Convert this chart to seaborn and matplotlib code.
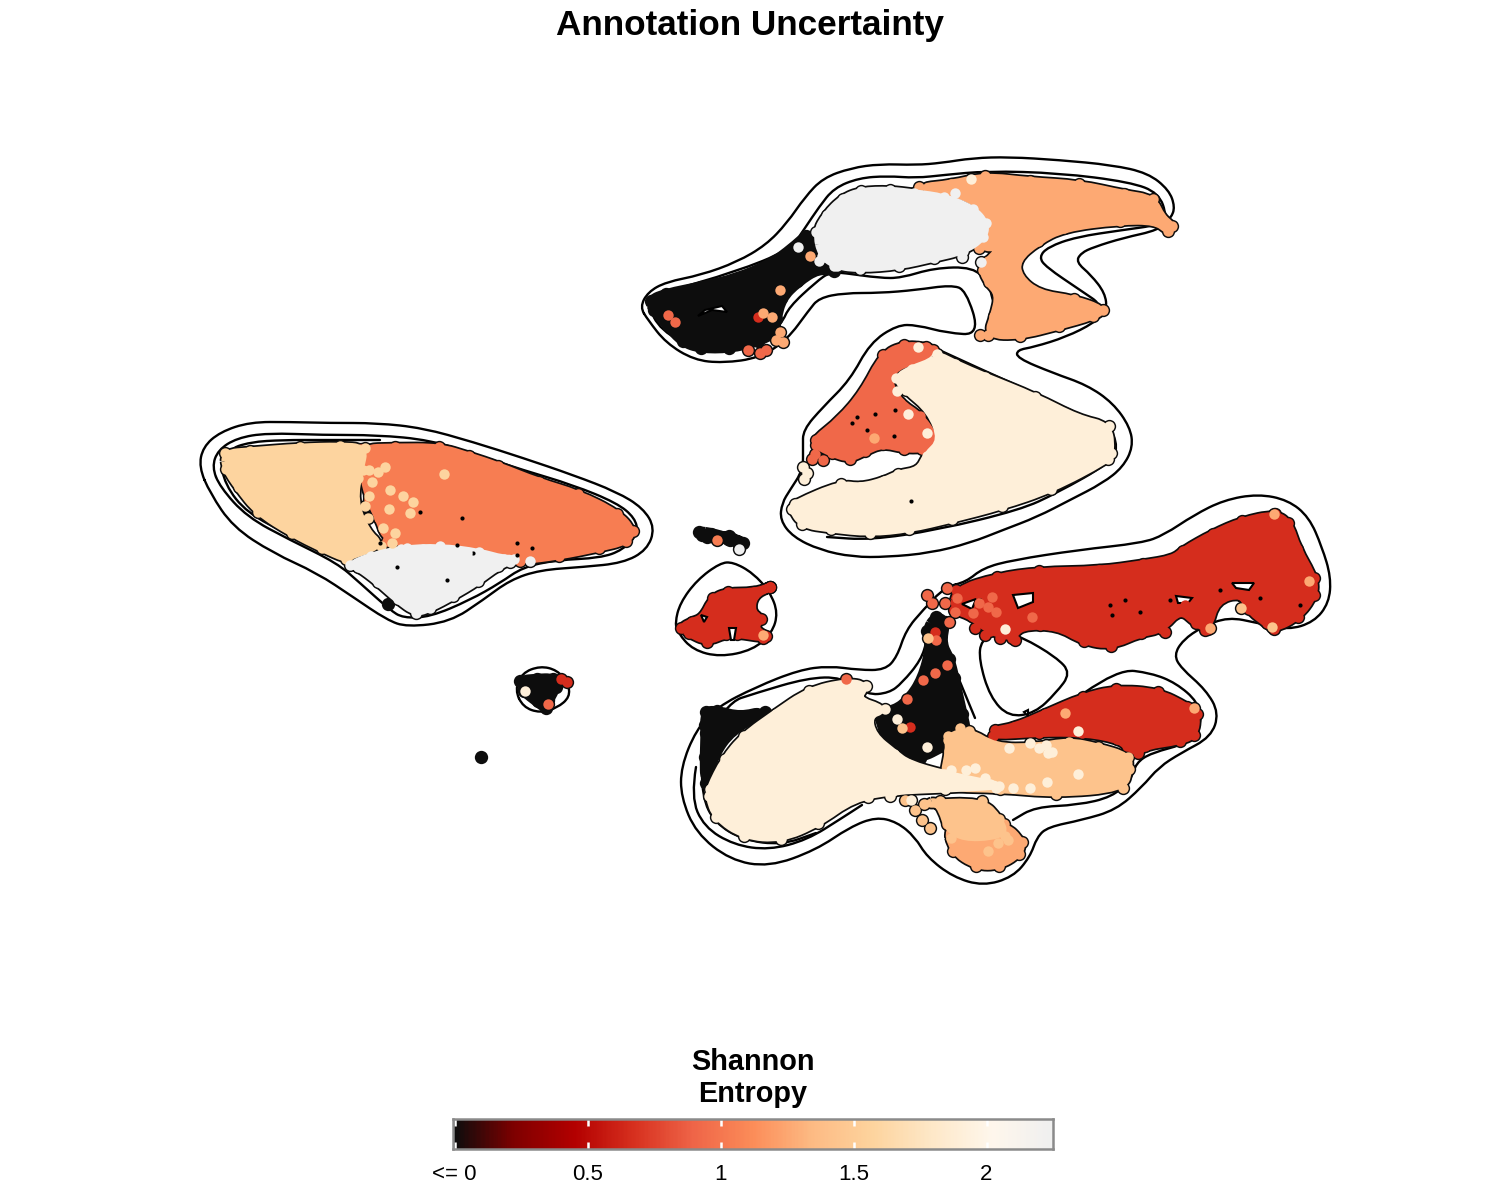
# coding: utf-8
# umap style cell map coloured by shannon entropy, density contours under the cells
import numpy as np
import matplotlib
matplotlib.use("Agg")
import matplotlib.pyplot as plt
import seaborn as sns
from matplotlib.colors import LinearSegmentedColormap, Normalize
from matplotlib.patches import PathPatch
from matplotlib.path import Path

sns.set_style("white")
plt.rcParams['font.family'] = ['Liberation Sans', 'DejaVu Sans']
plt.rcParams['text.color'] = 'black'
plt.rcParams['xtick.color'] = 'black'

# embedding coordinates
contour_top = [(640,307),(648,292),(666,282),(701,275),(737,262),(766,245),(787,223),(805,197),(823,178),(851,168),(880,164),(916,165),(941,163),(973,158),(1009,157),(1059,160),(1112,165),(1148,173),(1169,190),(1175,207),(1171,218),(1159,230),(1123,238),(1094,247),(1081,253),(1076,262),(1091,275),(1105,293),(1107,310),(1094,323),(1066,337),(1034,347),(1017,350),(1017,358),(1053,373),(1087,385),(1113,403),(1130,427),(1133,447),(1123,467),(1103,483),(1070,500),(1037,517),(1003,530),(970,543),(930,553),(887,557),(853,557),(820,550),(793,537),(780,520),(782,503),(790,490),(803,470),(803,447),(803,430),(823,407),(850,380),(870,343),(897,325),(917,325),(947,333),(980,335),(966,290),(951,285),(916,290),(880,293),(844,293),(819,298),(809,310),(787,340),(759,358),(723,363),(694,360),(666,343),(648,320),(640,307)]
contour_top2 = [(805,228),(819,207),(834,188),(859,178),(887,176),(916,178),(944,175),(987,171),(1059,173),(1130,182),(1159,193),(1167,217),(1159,225),(1123,230),(1076,237),(1048,247),(1039,257),(1046,267),(1080,290),(1105,307),(1076,323),(1048,332),(1019,330),(994,307),(989,283),(973,267),(934,268),(901,278),(880,278),(844,273),(830,272),(816,282),(789,307),(782,323),(760,345),(700,352),(660,330),(648,305),(665,292),(735,272),(790,250),(805,228)]
contour_cream2 = [(937,349),(987,372),(1043,397),(1087,418),(1110,427),(1118,447),(1110,463),(1057,493),(1020,510),(937,530),(870,540),(827,537)]
contour_left1 = [(199,467),(203,447),(220,432),(250,422),(290,422),(330,423),(377,423),(423,428),(473,442),(523,458),(573,475),(617,492),(643,508),(655,528),(647,550),(623,563),(583,567),(540,570),(510,580),(483,600),(450,622),(407,627),(387,620),(353,597),(317,573),(273,553),(233,527),(210,493),(199,467)]
contour_left2 = [(212,467),(218,450),(237,438),(267,433),(323,435),(377,435),(430,440),(477,455),(523,470),(573,485),(617,503),(635,518),(638,533),(623,550),(600,558),(557,560),(523,567),(500,583),(470,600),(430,617),(403,618),(390,610),(360,583),(337,563),(290,540),(247,517),(220,487),(212,467)]
contour_left3 = [(222,467),(227,450),(250,442),(283,440),(323,440),(380,440)]
contour_left4 = [(222,470),(225,485),(247,513),(290,535)]
contour_big = [(966,582),(983,568),(1013,560),(1078,550),(1142,543),(1164,535),(1194,515),(1224,500),(1258,494),(1288,500),(1309,517),(1322,547),(1331,577),(1329,603),(1314,622),(1288,630),(1258,623),(1228,617),(1202,627),(1183,640),(1174,655),(1181,668),(1206,690),(1219,713),(1211,737),(1181,753),(1159,767),(1142,787),(1116,810),(1082,820),(1048,827),(1037,837),(1030,857),(1013,877),(983,886),(953,877),(927,857),(915,837),(897,822),(876,817),(850,827),(816,850),(769,867),(730,860),(696,833),(681,797),(681,767),(696,730),(717,707),(756,687),(799,670),(829,666),(859,670),(885,670),(897,657),(906,630),(923,610),(945,587),(966,582)]
contour_hole = [(981,640),(979,660),(990,697),(1009,717),(1035,713),(1056,693),(1071,673),(1056,657),(1022,637),(1000,630),(981,640)]
contour_low2 = [(1084,693),(1118,669),(1151,673),(1176,683),(1198,702),(1202,723),(1189,743),(1151,753),(1136,763),(1131,780),(1112,797),(1078,805),(1035,807),(1013,820)]
contour_cream_a = [(696,767),(691,797),(704,827),(734,845),(769,850),(807,840),(842,818),(862,805)]
contour_cream_b = [(702,745),(726,703),(756,693),(807,678),(842,677),(867,695),(889,693),(902,683),(921,660),(927,640)]
contour_cream_c = [(702,773),(702,797),(715,823),(743,840),(782,845),(816,833)]
contour_neck = [(958,677),(975,718)]
contour_small = [(675,623),(680,603),(697,580),(720,563),(733,562),(753,573),(770,592),(778,613),(772,633),(753,650),(720,657),(693,650),(678,633),(675,623)]
contour_tiny = [(515,690),(522,673),(540,666),(557,670),(568,683),(570,697),(557,708),(540,713),(523,707),(515,690)]
contours = [contour_top, contour_top2, contour_cream2, contour_left1, contour_left2, contour_left3, contour_left4,
            contour_big, contour_hole, contour_low2, contour_cream_a, contour_cream_b, contour_cream_c,
            contour_neck, contour_small, contour_tiny]

# cell clusters: outline and the entropy of that cluster
peach_left = [(222,450),(250,447),(300,443),(340,442),(368,445),(364,470),(358,500),(370,530),(385,548),(350,560),(345,563),(320,552),(290,537),(255,515),(235,490),(222,470)]
orange_left = [(358,445),(395,443),(440,443),(470,452),(500,462),(540,478),(580,490),(620,510),(637,530),(628,545),(600,552),(560,560),(520,565),(500,556),(460,548),(420,548),(385,545),(375,520),(365,500),(358,470)]
gray_left = [(347,562),(370,552),(400,545),(440,543),(480,548),(505,555),(518,560),(500,570),(480,585),(455,600),(432,612),(415,617),(395,603),(375,585),(355,570)]
black_top = [(647,298),(665,290),(700,283),(735,275),(770,260),(790,245),(805,232),(825,235),(838,272),(820,272),(800,285),(785,300),(780,320),(778,335),(760,345),(730,352),(700,352),(680,345),(665,328),(650,312)]
gray_top = [(812,232),(823,212),(840,195),(860,187),(890,186),(915,189),(945,193),(975,205),(990,222),(987,240),(965,255),(935,262),(900,270),(860,273),(835,270),(818,258)]
orange_top = [(915,186),(950,180),(985,172),(1030,177),(1080,180),(1125,190),(1155,195),(1165,215),(1176,225),(1168,235),(1155,225),(1120,225),(1065,232),(1040,245),(1020,262),(1022,275),(1040,290),(1075,295),(1107,307),(1095,320),(1060,330),(1020,340),(985,338),(990,315),(995,295),(985,285),(978,270),(985,258),(1000,250),(975,250),(985,225),(975,205),(945,195)]
tomato_cream = [(812,437),(837,417),(860,390),(880,352),(903,341),(927,343),(937,350),(927,362),(897,370),(892,382),(903,400),(923,413),(937,433),(938,447),(923,453),(903,453),(883,448),(867,455),(850,463),(830,457),(813,448)]
cream_top = [(937,350),(957,360),(987,373),(1037,393),(1080,415),(1112,423),(1115,453),(1110,463),(1053,493),(1003,510),(953,523),(910,533),(870,537),(830,533),(800,528),(788,510),(793,500),(840,480),(860,483),(883,477),(897,470),(917,467),(923,453),(938,440),(927,413),(903,393),(892,377),(910,365),(930,358)]
red_big = [(953,587),(996,573),(1039,567),(1099,566),(1142,560),(1172,555),(1181,547),(1211,530),(1241,517),(1275,510),(1292,520),(1301,547),(1318,577),(1318,597),(1301,620),(1275,633),(1264,627),(1245,612),(1241,597),(1219,603),(1211,632),(1194,627),(1181,613),(1164,633),(1142,637),(1112,650),(1082,645),(1056,630),(1022,630),(1013,642),(988,635),(970,620),(950,612)]
red_low = [(992,727),(1013,723),(1043,710),(1082,693),(1116,685),(1159,688),(1189,703),(1201,713),(1198,737),(1181,745),(1146,750),(1138,757),(1125,750),(1116,743),(1082,737),(1039,737),(992,740)]
black_neck = [(934,613),(949,620),(945,643),(953,657),(958,677),(966,713),(970,735),(945,750),(921,762),(893,760),(872,713),(893,707),(906,697),(919,677),(927,647),(923,630)]
black_side = [(702,710),(717,707),(741,713),(769,713),(734,733),(717,757),(706,787),(701,757),(702,733)]
cream_big = [(706,787),(721,757),(741,733),(773,710),(807,687),(846,678),(870,683),(859,697),(889,707),(872,717),(876,733),(897,750),(910,760),(945,770),(992,780),(1000,790),(945,793),(893,795),(855,802),(820,827),(782,843),(743,840),(713,820),(705,797)]
peach_mid = [(945,733),(970,727),(996,743),(1035,743),(1069,737),(1099,743),(1131,753),(1133,770),(1125,792),(1056,798),(1000,793),(945,792),(940,773),(945,750)]
peach_stem = [(923,800),(983,797),(1003,817),(1007,840),(949,842),(936,803)]
orange_foot = [(945,820),(1005,820),(1026,840),(1022,857),(1000,870),(975,870),(949,853)]
red_small = [(677,627),(690,618),(700,615),(710,595),(727,588),(753,588),(770,583),(773,590),(757,598),(755,610),(765,618),(758,627),(770,635),(763,642),(737,638),(727,638),(707,646),(687,637)]
black_tiny = [(517,678),(537,675),(555,675),(560,687),(552,702),(547,712),(535,705),(520,693)]
black_sliver = [(695,534),(707,532),(718,534),(730,532),(740,538),(745,547),(727,543),(710,538)]

regions = [(red_big, 0.66), (red_low, 0.66), (red_small, 0.66), (black_neck, 0.0), (black_side, 0.0),
           (black_top, 0.0), (orange_top, 1.26), (gray_top, 2.25), (orange_left, 1.03), (peach_left, 1.575),
           (gray_left, 2.25), (tomato_cream, 0.92), (cream_top, 1.9), (orange_foot, 1.26), (peach_stem, 1.42),
           (peach_mid, 1.42), (cream_big, 1.9), (black_tiny, 0.0), (black_sliver, 0.0)]

# single cells that stand out from their cluster
dots_peach_light = [(385,467),(378,472),(369,470),(363,470),(358,478),(372,482),(369,496),(390,490),(403,496),(413,502),(389,509),(410,513),(365,506),(368,518),(383,528),(395,533),(392,543),(444,474)]
dots_gray = [(440,546),(467,553),(530,561),(510,562),(490,564),(423,549),(407,548),(450,552),(955,193),(798,247),(823,257),(819,261),(834,266),(962,257),(981,262),(739,549)]
dots_black = [(388,604),(481,757),(702,535),(710,535),(720,537),(730,540),(738,543),(712,715),(725,714),(735,718),(705,725),(708,735)]
dots_cream = [(971,179),(918,347),(897,391),(908,414),(927,433),(803,467),(807,473),(804,479),(951,770),(966,770),(975,768),(985,778),(1009,748),(1030,743),(1039,748),(1048,753),(1046,745),(1052,752),(1078,774),(1047,782),(1030,788),(996,788),(1013,788),(1078,731),(897,719),(927,747),(911,800),(1005,629),(525,691),(905,783),(880,790),(868,797),(890,796)]
dots_orange = [(810,256),(780,290),(763,313),(772,317),(776,340),(780,332),(783,342),(980,335),(1168,226),(874,438),(1065,713),(1194,708),(1274,514),(1309,581),(1210,628),(763,635)]
dots_peach = [(902,728),(928,638),(955,828),(988,851),(998,843),(1008,840),(1241,608),(1272,627),(905,800),(915,810),(922,820),(930,828),(960,728),(970,735),(985,742),(948,740)]
dots_red = [(758,317),(910,727),(935,632),(770,587),(561,679),(567,682),(975,628),(985,635),(1000,638),(1015,640),(1040,625),(1050,625),(1175,610),(1185,605),(1195,618),(1205,630),(1165,632)]
dots_tomato = [(668,315),(675,322),(748,350),(760,353),(766,350),(815,454),(812,459),(823,460),(927,595),(932,603),(947,588),(945,603),(955,612),(949,622),(973,613),(988,607),(996,612),(992,597),(979,603),(957,598),(1032,617),(907,699),(923,680),(935,673),(947,665),(936,640),(846,679),(548,704)]
dots_coral = [(717,540)]
dot_groups = [(dots_black, 0.0), (dots_red, 0.66), (dots_tomato, 0.92), (dots_coral, 1.03), (dots_orange, 1.26),
              (dots_peach, 1.42), (dots_peach_light, 1.575), (dots_cream, 1.9), (dots_gray, 2.25)]

# gaps inside the clusters
hole_a = [(962,604),(976,599),(972,609)]
hole_b = [(1013,595),(1033,593),(1033,602),(1018,608)]
hole_c = [(1176,596),(1192,598),(1188,603),(1178,603)]
hole_d = [(1232,583),(1254,583),(1249,590),(1236,588)]
hole_e = [(698,316),(705,310),(722,306),(727,312),(712,310)]
hole_f = [(701,615),(707,617),(704,622)]
hole_g = [(729,628),(736,628),(734,640),(731,640)]
hole_h = [(1024,712),(1028,710),(1028,716)]
holes = [hole_a, hole_b, hole_c, hole_d, hole_e, hole_f, hole_g, hole_h]

speck_x = [420,462,473,517,532,517,447,397,380,457,852,875,867,894,911,895,857,980,1110,1125,1140,1220,1260,1300,1112,1170]
speck_y = [512,518,553,543,548,555,580,567,543,545,423,414,430,436,501,410,417,600,605,600,612,590,598,605,615,600]

cmap_colours = ['#0d0d0d', '#7f0000', '#b30000', '#d7301f', '#ef6548', '#fc8d59', '#fdbb84', '#fdd49e', '#fee8c8', '#fff7ec', '#f0f0f0']
tick_vals = [0, 0.5, 1, 1.5, 2]
tick_labels = ['<= 0', '0.5', '1', '1.5', '2']

entropy_cmap = LinearSegmentedColormap.from_list('entropy', cmap_colours)
norm = Normalize(0, 2.25)


def inset(poly, d):
    # pull outline inwards by the dot radius, the dots then reach the drawn edge again
    p = np.array(poly, dtype=float)
    area = np.sum(p[:, 0] * np.roll(p[:, 1], -1) - np.roll(p[:, 0], -1) * p[:, 1])
    t = np.roll(p, -1, axis=0) - np.roll(p, 1, axis=0)
    n = np.stack([-t[:, 1], t[:, 0]], axis=1)
    n = n / np.maximum(np.linalg.norm(n, axis=1, keepdims=True), 1e-6)
    return p + np.sign(area) * d * n


def rounded(p, closed):
    # read points become control points of a curve, so the outline has no corners
    p = np.array(p, dtype=float)
    if closed:
        if np.all(p[0] == p[-1]):
            p = p[:-1]
        mids = (p + np.roll(p, -1, axis=0)) / 2
        verts = [mids[-1]]
        codes = [Path.MOVETO]
        for i in range(len(p)):
            verts += [p[i], mids[i]]
            codes += [Path.CURVE3, Path.CURVE3]
        return Path(verts, codes)
    verts = [p[0]]
    codes = [Path.MOVETO]
    for i in range(1, len(p) - 1):
        verts += [p[i], (p[i] + p[i + 1]) / 2]
        codes += [Path.CURVE3, Path.CURVE3]
    verts.append(p[-1])
    codes.append(Path.LINETO)
    return Path(verts, codes)


fig = plt.figure(figsize=(15, 12), dpi=100)
ax = fig.add_axes([0, 0, 1, 1])

for c in contours:
    is_closed = c[0] == c[-1]
    ax.add_patch(PathPatch(rounded(c, is_closed), fill=False, edgecolor='black', linewidth=1.7,
                           capstyle='round', joinstyle='round', zorder=1))

# black halo first, all of it under every coloured cell
for poly, v in regions:
    p = inset(poly, 4.5)
    ax.add_patch(PathPatch(rounded(p, True), facecolor='#0d0d0d', edgecolor='#0d0d0d', linewidth=8.5,
                           joinstyle='round', zorder=2))
    sns.scatterplot(x=p[:, 0], y=p[:, 1], s=92, color='#0d0d0d', linewidth=0, ax=ax, legend=False, zorder=2)
for pts, v in dot_groups:
    d = np.array(pts)
    sns.scatterplot(x=d[:, 0], y=d[:, 1], s=92, color='#0d0d0d', linewidth=0, ax=ax, legend=False, zorder=2)

z = 3
for poly, v in regions:
    col = entropy_cmap(norm(v))
    p = inset(poly, 4.5)
    ax.add_patch(PathPatch(rounded(p, True), facecolor=col, edgecolor=col, linewidth=6.0, joinstyle='round', zorder=z))
    sns.scatterplot(x=p[:, 0], y=p[:, 1], s=56, color=col, linewidth=0, ax=ax, legend=False, zorder=z)
    z += 1

for h in holes:
    h = np.array(h)
    ax.fill(h[:, 0], h[:, 1], facecolor='white', edgecolor='black', linewidth=1.5, zorder=z)
sns.scatterplot(x=speck_x, y=speck_y, s=9, color='black', linewidth=0, ax=ax, legend=False, zorder=z)
z += 1

for pts, v in dot_groups:
    d = np.array(pts)
    sns.scatterplot(x=d[:, 0], y=d[:, 1], s=56, color=entropy_cmap(norm(v)), linewidth=0, ax=ax, legend=False, zorder=z)

ax.set_xlim(0, 1500)
ax.set_ylim(1200, 0)
ax.axis('off')

fig.text(750 / 1500, 1 - 26 / 1200, 'Annotation Uncertainty', ha='center', va='center', fontsize=25.3, fontweight='bold')
fig.text(753 / 1500, 1 - 1078 / 1200, 'Shannon\nEntropy', ha='center', va='center', fontsize=20.8, fontweight='bold', linespacing=1.17)

# colour key
cax = fig.add_axes([453 / 1500, 1 - 1149 / 1200, 600 / 1500, 30 / 1200])
cax.imshow(np.linspace(0, 2.25, 400)[None, :], aspect='auto', cmap=entropy_cmap, norm=norm, extent=(-0.006, 2.25, 0, 1))
cax.vlines(tick_vals, 0, 0.22, color='white', linewidth=1.8)
cax.vlines(tick_vals, 0.78, 1, color='white', linewidth=1.8)
cax.set_xticks(tick_vals)
cax.set_xticklabels(tick_labels, fontsize=16)
cax.set_yticks([])
cax.tick_params(axis='x', length=0, pad=11)
for s in cax.spines.values():
    s.set_visible(True)
    s.set_color('#8a8a8a')
    s.set_linewidth(1.8)

plt.savefig("out.png", dpi=100)
